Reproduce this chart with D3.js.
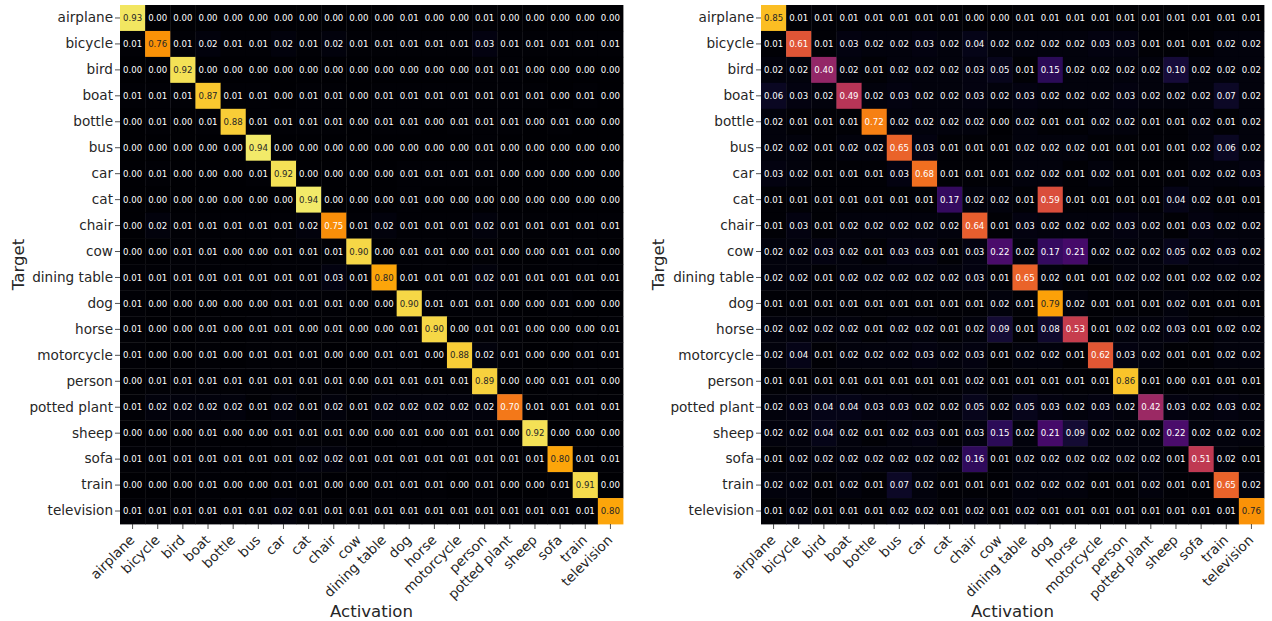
<!DOCTYPE html>
<html>
<head>
<meta charset="utf-8">
<script src="https://cdn.jsdelivr.net/npm/d3@7"></script>
<style>
  body { margin: 0; background: #fff; }
  svg { font-family: "DejaVu Sans", sans-serif; }
</style>
</head>
<body>
<div id="chart"></div>
<script>
const categories = ["airplane", "bicycle", "bird", "boat", "bottle", "bus", "car", "cat", "chair", "cow",
  "dining table", "dog", "horse", "motorcycle", "person", "potted plant", "sheep", "sofa", "train", "television"];

// left panel: rows = target, cols = activation
const leftMatrix = [
  [0.93,0.00,0.00,0.00,0.00,0.00,0.00,0.00,0.00,0.00,0.00,0.01,0.00,0.00,0.01,0.00,0.00,0.00,0.00,0.00],
  [0.01,0.76,0.01,0.02,0.01,0.01,0.02,0.01,0.02,0.01,0.01,0.01,0.01,0.01,0.03,0.01,0.01,0.01,0.01,0.01],
  [0.00,0.00,0.92,0.00,0.00,0.00,0.00,0.00,0.00,0.00,0.00,0.00,0.00,0.00,0.01,0.01,0.00,0.00,0.00,0.00],
  [0.01,0.01,0.01,0.87,0.01,0.01,0.00,0.01,0.01,0.00,0.01,0.01,0.01,0.01,0.01,0.01,0.01,0.00,0.01,0.00],
  [0.00,0.01,0.00,0.01,0.88,0.01,0.01,0.01,0.01,0.00,0.01,0.01,0.00,0.01,0.01,0.01,0.00,0.01,0.00,0.00],
  [0.00,0.00,0.00,0.00,0.00,0.94,0.00,0.00,0.00,0.00,0.00,0.00,0.00,0.00,0.01,0.00,0.00,0.00,0.00,0.00],
  [0.00,0.01,0.00,0.00,0.00,0.01,0.92,0.00,0.00,0.00,0.00,0.01,0.01,0.01,0.01,0.00,0.00,0.00,0.00,0.00],
  [0.00,0.00,0.00,0.00,0.00,0.00,0.00,0.94,0.00,0.00,0.00,0.01,0.00,0.00,0.00,0.00,0.00,0.00,0.00,0.00],
  [0.00,0.02,0.01,0.01,0.01,0.01,0.01,0.02,0.75,0.01,0.02,0.01,0.01,0.01,0.02,0.01,0.01,0.01,0.01,0.01],
  [0.00,0.00,0.01,0.01,0.00,0.00,0.01,0.01,0.01,0.90,0.00,0.01,0.01,0.00,0.01,0.00,0.00,0.01,0.01,0.00],
  [0.01,0.01,0.01,0.01,0.01,0.01,0.01,0.01,0.03,0.01,0.80,0.01,0.01,0.01,0.02,0.01,0.01,0.01,0.01,0.01],
  [0.01,0.00,0.00,0.00,0.00,0.00,0.01,0.01,0.01,0.00,0.00,0.90,0.01,0.01,0.01,0.00,0.00,0.01,0.00,0.00],
  [0.01,0.00,0.00,0.01,0.00,0.01,0.01,0.00,0.01,0.00,0.00,0.01,0.90,0.00,0.01,0.01,0.00,0.00,0.00,0.01],
  [0.01,0.00,0.00,0.01,0.00,0.01,0.01,0.01,0.00,0.00,0.01,0.01,0.00,0.88,0.02,0.01,0.00,0.00,0.01,0.01],
  [0.00,0.01,0.01,0.01,0.01,0.01,0.01,0.01,0.01,0.00,0.01,0.01,0.01,0.01,0.89,0.00,0.00,0.01,0.01,0.00],
  [0.01,0.02,0.02,0.02,0.02,0.01,0.02,0.01,0.02,0.01,0.02,0.02,0.02,0.02,0.02,0.70,0.01,0.01,0.01,0.01],
  [0.00,0.00,0.00,0.01,0.00,0.00,0.01,0.01,0.01,0.00,0.00,0.01,0.00,0.01,0.01,0.00,0.92,0.00,0.00,0.00],
  [0.01,0.01,0.01,0.01,0.01,0.01,0.01,0.02,0.02,0.01,0.01,0.01,0.01,0.01,0.01,0.01,0.01,0.80,0.01,0.01],
  [0.00,0.00,0.00,0.01,0.00,0.00,0.01,0.01,0.00,0.00,0.01,0.01,0.01,0.00,0.01,0.00,0.00,0.01,0.91,0.00],
  [0.01,0.01,0.01,0.01,0.01,0.01,0.02,0.01,0.01,0.01,0.01,0.01,0.01,0.01,0.01,0.01,0.01,0.01,0.01,0.80]
];

const rightMatrix = [
  [0.85,0.01,0.01,0.01,0.01,0.01,0.01,0.01,0.00,0.00,0.01,0.01,0.01,0.01,0.01,0.01,0.01,0.01,0.01,0.01],
  [0.01,0.61,0.01,0.03,0.02,0.02,0.03,0.02,0.04,0.02,0.02,0.02,0.02,0.03,0.03,0.01,0.01,0.01,0.02,0.02],
  [0.02,0.02,0.40,0.02,0.01,0.02,0.02,0.02,0.03,0.05,0.01,0.15,0.02,0.02,0.02,0.02,0.10,0.02,0.02,0.02],
  [0.06,0.03,0.02,0.49,0.02,0.03,0.02,0.02,0.03,0.02,0.03,0.02,0.02,0.02,0.03,0.02,0.02,0.02,0.07,0.02],
  [0.02,0.01,0.01,0.01,0.72,0.02,0.02,0.02,0.02,0.00,0.02,0.01,0.01,0.02,0.02,0.01,0.01,0.02,0.01,0.02],
  [0.02,0.02,0.01,0.02,0.02,0.65,0.03,0.01,0.01,0.01,0.02,0.02,0.02,0.01,0.01,0.01,0.01,0.02,0.06,0.02],
  [0.03,0.02,0.01,0.01,0.01,0.03,0.68,0.01,0.01,0.01,0.02,0.02,0.01,0.02,0.01,0.01,0.01,0.02,0.02,0.03],
  [0.01,0.01,0.01,0.01,0.01,0.01,0.01,0.17,0.02,0.02,0.01,0.59,0.01,0.01,0.01,0.01,0.04,0.02,0.01,0.01],
  [0.01,0.03,0.01,0.02,0.02,0.02,0.02,0.02,0.64,0.01,0.03,0.02,0.02,0.02,0.03,0.02,0.01,0.03,0.02,0.02],
  [0.02,0.02,0.03,0.02,0.01,0.03,0.03,0.01,0.03,0.22,0.02,0.17,0.21,0.02,0.02,0.02,0.05,0.02,0.03,0.02],
  [0.02,0.02,0.01,0.02,0.02,0.02,0.02,0.02,0.03,0.01,0.65,0.02,0.01,0.01,0.02,0.02,0.01,0.02,0.02,0.02],
  [0.01,0.01,0.01,0.01,0.01,0.01,0.01,0.01,0.01,0.02,0.01,0.79,0.02,0.01,0.01,0.01,0.02,0.01,0.01,0.01],
  [0.02,0.02,0.02,0.02,0.01,0.02,0.02,0.01,0.02,0.09,0.01,0.08,0.53,0.01,0.02,0.02,0.03,0.01,0.02,0.02],
  [0.02,0.04,0.01,0.02,0.02,0.02,0.03,0.02,0.03,0.01,0.02,0.02,0.01,0.62,0.03,0.02,0.01,0.01,0.02,0.02],
  [0.01,0.01,0.01,0.01,0.01,0.01,0.01,0.01,0.02,0.01,0.01,0.01,0.01,0.01,0.86,0.01,0.00,0.01,0.01,0.01],
  [0.02,0.03,0.04,0.04,0.03,0.03,0.02,0.02,0.05,0.02,0.05,0.03,0.02,0.03,0.02,0.42,0.03,0.02,0.03,0.02],
  [0.02,0.02,0.04,0.02,0.01,0.02,0.03,0.01,0.03,0.15,0.02,0.21,0.09,0.02,0.02,0.02,0.22,0.02,0.02,0.02],
  [0.01,0.02,0.02,0.02,0.02,0.02,0.02,0.02,0.16,0.01,0.02,0.02,0.02,0.02,0.02,0.02,0.01,0.51,0.02,0.01],
  [0.02,0.02,0.01,0.02,0.01,0.07,0.02,0.01,0.01,0.01,0.02,0.02,0.02,0.01,0.01,0.02,0.01,0.01,0.65,0.02],
  [0.01,0.02,0.01,0.01,0.01,0.02,0.02,0.01,0.02,0.01,0.02,0.01,0.01,0.01,0.01,0.01,0.01,0.01,0.01,0.76]
];

const totalWidth = 1272;
const totalHeight = 621;
const width = 503;
const height = 519;
const fontFamily = "'DejaVu Sans', sans-serif";

const svg = d3
  .select("#chart")
  .append("svg")
  .attr("width", totalWidth)
  .attr("height", totalHeight);

const color = d3.scaleSequential(d3.interpolateInferno).domain([0, 1]);

// seaborn-style choice of annotation colour
const textColor = (v) => {
  const c = d3.rgb(color(v));
  const lin = [c.r, c.g, c.b].map((x) => {
    x = x / 255;
    return x <= 0.03928 ? x / 12.92 : Math.pow((x + 0.055) / 1.055, 2.4);
  });
  const lum = 0.2126 * lin[0] + 0.7152 * lin[1] + 0.0722 * lin[2];
  return lum > 0.408 ? "#262626" : "#ffffff";
};

function drawHeatmap(matrix, left, top, labelX) {
  const g = svg.append("g").attr("transform", `translate(${left}, ${top})`);

  const x = d3.scaleBand().domain(categories).range([0, width]);
  const y = d3.scaleBand().domain(categories).range([0, height]);

  const cells = [];
  matrix.forEach((row, i) => {
    row.forEach((v, j) => cells.push({ row: categories[i], col: categories[j], value: v }));
  });

  g.selectAll("rect")
    .data(cells)
    .enter()
    .append("rect")
    .attr("x", (d) => x(d.col))
    .attr("y", (d) => y(d.row))
    .attr("width", x.bandwidth() + 0.4)
    .attr("height", y.bandwidth() + 0.4)
    .attr("fill", (d) => color(d.value));

  g.selectAll("text.annot")
    .data(cells)
    .enter()
    .append("text")
    .attr("class", "annot")
    .attr("x", (d) => x(d.col) + x.bandwidth() / 2)
    .attr("y", (d) => y(d.row) + y.bandwidth() / 2)
    .attr("dy", "0.36em")
    .attr("text-anchor", "middle")
    .attr("font-family", fontFamily)
    .attr("font-size", "8.6px")
    .attr("fill", (d) => textColor(d.value))
    .text((d) => d.value.toFixed(2));

  const xAxis = g
    .append("g")
    .attr("transform", `translate(0, ${height})`)
    .call(d3.axisBottom(x).tickSize(5).tickPadding(3))
    .attr("font-family", fontFamily);
  xAxis.select(".domain").remove();
  xAxis
    .selectAll("text")
    .attr("x", 0)
    .attr("y", 0)
    .attr("dy", "0.72em")
    .attr("text-anchor", "end")
    .attr("transform", "translate(-4, 10) rotate(-45)")
    .attr("font-size", "13.6px")
    .attr("fill", "#262626");

  const yAxis = g
    .append("g")
    .call(d3.axisLeft(y).tickSize(5).tickPadding(2))
    .attr("font-family", fontFamily);
  yAxis.select(".domain").remove();
  yAxis
    .selectAll("text")
    .attr("font-size", "13.6px")
    .attr("fill", "#262626");

  g.selectAll(".tick line").attr("stroke", "#262626").attr("stroke-width", 0.8);

  g.append("text")
    .attr("x", width / 2)
    .attr("y", 617 - top)
    .attr("text-anchor", "middle")
    .attr("font-family", fontFamily)
    .attr("font-size", "16.6px")
    .attr("fill", "#262626")
    .text("Activation");

  g.append("text")
    .attr("transform", `translate(${labelX - left}, ${height / 2}) rotate(-90)`)
    .attr("text-anchor", "middle")
    .attr("font-family", fontFamily)
    .attr("font-size", "16.6px")
    .attr("fill", "#262626")
    .text("Target");
}

drawHeatmap(leftMatrix, 120, 5, 24);
drawHeatmap(rightMatrix, 761, 5, 664);
</script>
</body>
</html>
